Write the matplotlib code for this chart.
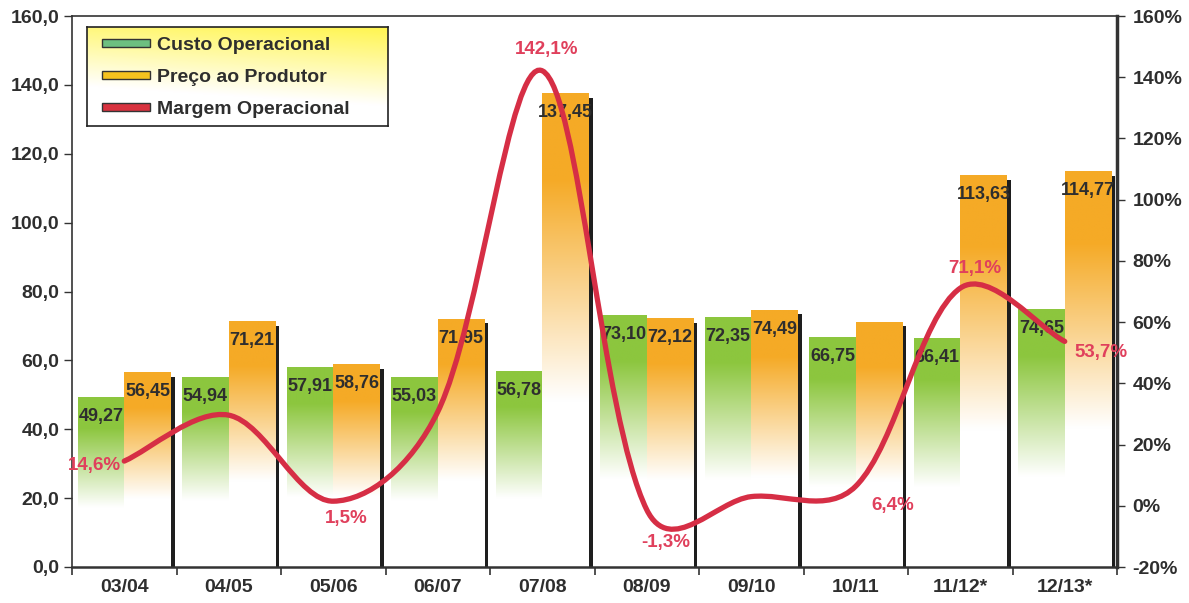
import numpy as np
import matplotlib.pyplot as plt
import matplotlib.transforms as mtransforms
from matplotlib.patches import Patch, PathPatch
from matplotlib.path import Path
from matplotlib.ticker import FixedLocator, FuncFormatter

plt.rcParams['font.family'] = ['Liberation Sans', 'DejaVu Sans']
plt.rcParams['font.weight'] = 'bold'

# safras e valores (R$ e margem %)
safras = ['03/04', '04/05', '05/06', '06/07', '07/08',
          '08/09', '09/10', '10/11', '11/12*', '12/13*']
custo = [49.27, 54.94, 57.91, 55.03, 56.78, 73.10, 72.35, 66.75, 66.41, 74.65]
preco = [56.45, 71.21, 58.76, 71.95, 137.45, 72.12, 74.49, 71.02, 113.63, 114.77]
preco_com_rotulo = [True, True, True, True, True, True, True, False, True, True]
margem = [14.6, 29.6, 1.5, 30.7, 142.1, -1.3, 3.0, 6.4, 71.1, 53.7]

# onde vai cada rótulo da margem (deslocamento em pixels)
pos_rotulo_margem = {0: (-30, -4), 2: (13, -17), 4: (4, 21), 5: (19, -33),
                     7: (37, -19), 8: (15, 20), 9: (36, -11)}

VERDE = np.array([140, 198, 62]) / 255
LARANJA = np.array([245, 170, 38]) / 255
VERMELHO = '#D62E45'
TEXTO = '#2E2E2E'


def degrade(cor, n=200):
    # cor cheia no topo, clareando até o branco na parte de baixo
    t = np.linspace(0, 1, n)
    s = np.clip((t - 0.18) / 0.47, 0, 1)[:, None]
    rgb = cor[None, :] * (1 - s) + np.ones(3)[None, :] * s
    return rgb[:, None, :]


def curva_suave(ax, xs, ys, fator=1 / 6):
    # curva bezier passando pelos pontos (suavizacao tipo Excel)
    pts = ax.transData.transform(np.column_stack([xs, ys]))
    ext = np.vstack([pts[0], pts, pts[-1]])
    verts = [pts[0]]
    codes = [Path.MOVETO]
    for i in range(len(pts) - 1):
        p0, p1, p2, p3 = ext[i], ext[i + 1], ext[i + 2], ext[i + 3]
        d01 = np.hypot(*(p1 - p0))
        d12 = np.hypot(*(p2 - p1))
        d23 = np.hypot(*(p3 - p2))
        w1 = 0.5 * (1 + 2 * d12 / (d01 + d12)) if d01 + d12 > 0 else 1
        w2 = 0.5 * (1 + 2 * d12 / (d12 + d23)) if d12 + d23 > 0 else 1
        c1 = p1 + (p2 - p0) * fator * w1
        c2 = p2 - (p3 - p1) * fator * w2
        verts += [c1, c2, p2]
        codes += [Path.CURVE4] * 3
    verts = ax.transData.inverted().transform(np.array(verts))
    return Path(verts, codes)


fig = plt.figure(figsize=(11.89, 6.03), dpi=100)
ax = fig.add_axes([72 / 1189, 1 - 567 / 603, 1045 / 1189, 551 / 603])
ax.set_xlim(-0.5, len(safras) - 0.5)
ax.set_ylim(0, 160)
ax.set_autoscale_on(False)

x = np.arange(len(safras))
w = 0.447

# sombra preta das barras de preço
sombra = mtransforms.offset_copy(ax.transData, fig=fig, x=4, y=-4, units='dots')
ax.bar(x + w / 2, preco, w, color='#1E1E1E', transform=sombra, zorder=1.5)

barras_custo = ax.bar(x - w / 2, custo, w, color='none', zorder=2)
barras_preco = ax.bar(x + w / 2, preco, w, color='none', zorder=2)
for barras, cor in [(barras_custo, VERDE), (barras_preco, LARANJA)]:
    for r in barras:
        x0, h = r.get_x(), r.get_height()
        ax.imshow(degrade(cor), extent=[x0, x0 + r.get_width(), 0, h],
                  aspect='auto', interpolation='bilinear', zorder=2)

for i in range(len(safras)):
    ax.annotate(f'{custo[i]:.2f}'.replace('.', ','), xy=(x[i] - w / 2, custo[i]),
                xytext=(0, -19), textcoords='offset pixels', ha='center',
                va='center', fontsize=13, color=TEXTO, zorder=4)
    if preco_com_rotulo[i]:
        ax.annotate(f'{preco[i]:.2f}'.replace('.', ','), xy=(x[i] + w / 2, preco[i]),
                    xytext=(0, -19), textcoords='offset pixels', ha='center',
                    va='center', fontsize=13, color=TEXTO, zorder=4)

ax.set_xlim(-0.5, len(safras) - 0.5)
ax.set_ylim(0, 160)

ax.xaxis.set_major_locator(FixedLocator(x))
ax.set_xticklabels(safras)
ax.xaxis.set_minor_locator(FixedLocator(np.arange(len(safras) + 1) - 0.5))
ax.tick_params(axis='x', which='major', length=0, pad=9, labelsize=14,
               labelcolor=TEXTO)
ax.tick_params(axis='x', which='minor', length=6, width=1.2, color='#333')
ax.set_yticks(np.arange(0, 161, 20))
ax.yaxis.set_major_formatter(FuncFormatter(lambda v, p: f'{v:.1f}'.replace('.', ',')))
ax.tick_params(axis='y', length=6, width=1, color='#333', pad=3,
               labelsize=14, labelcolor=TEXTO)
for s in ax.spines.values():
    s.set_color('#333')
    s.set_linewidth(1.2)
ax.spines['bottom'].set_linewidth(1.8)
ax.spines['right'].set_linewidth(2.5)

# margem operacional no eixo da direita
ax2 = ax.twinx()
ax2.set_ylim(-20, 160)
ax2.set_xlim(-0.5, len(safras) - 0.5)
ax2.set_yticks(np.arange(-20, 161, 20))
ax2.yaxis.set_major_formatter(FuncFormatter(lambda v, p: f'{v:.0f}%'))
ax2.tick_params(axis='y', length=6, width=1, color='#333', pad=5,
                labelsize=14, labelcolor=TEXTO)
for s in ax2.spines.values():
    s.set_visible(False)
ax.set_zorder(0)
ax2.set_zorder(2)

ax2.add_patch(PathPatch(curva_suave(ax2, x, margem), facecolor='none',
                        edgecolor=VERMELHO, lw=3.8, capstyle='round', zorder=3))

for i, (dx, dy) in pos_rotulo_margem.items():
    ax2.annotate(f'{margem[i]:.1f}%'.replace('.', ','), xy=(x[i], margem[i]),
                 xytext=(dx, dy), textcoords='offset pixels', ha='center',
                 va='center', fontsize=13.5, color='#E0405C', zorder=5)

# caixa da legenda com fundo amarelo degradê
ax_leg = fig.add_axes([87 / 1189, 1 - 126 / 603, 301 / 1189, 99 / 603], zorder=1)
ty = np.linspace(0, 1, 100)[:, None]
tx = np.linspace(0, 1, 100)[None, :]
s = np.clip(ty / 0.8 + (1 - tx) * 0.25, 0, 1)[:, :, None]
amarelo = np.array([255, 245, 80]) / 255
ax_leg.imshow(amarelo * (1 - s) + s, aspect='auto', interpolation='bilinear')
ax_leg.set_xticks([])
ax_leg.set_yticks([])
for sp in ax_leg.spines.values():
    sp.set_color('#222')
    sp.set_linewidth(1.2)

leg = ax2.legend(handles=[
    Patch(facecolor='#6DBF80', edgecolor='#333', label='Custo Operacional'),
    Patch(facecolor='#F5C21E', edgecolor='#333', label='Preço ao Produtor'),
    Patch(facecolor='#D8323F', edgecolor='#333', label='Margem Operacional')],
    loc='upper left', bbox_to_anchor=(0.03, 0.96), bbox_transform=ax_leg.transAxes,
    frameon=False, prop={'size': 14, 'weight': 'bold'}, handlelength=2.5,
    handleheight=0.3, handletextpad=0.35, labelspacing=0.78, borderpad=0.3,
    borderaxespad=0)
for t in leg.get_texts():
    t.set_color(TEXTO)

fig.savefig('out.png', dpi=100)
